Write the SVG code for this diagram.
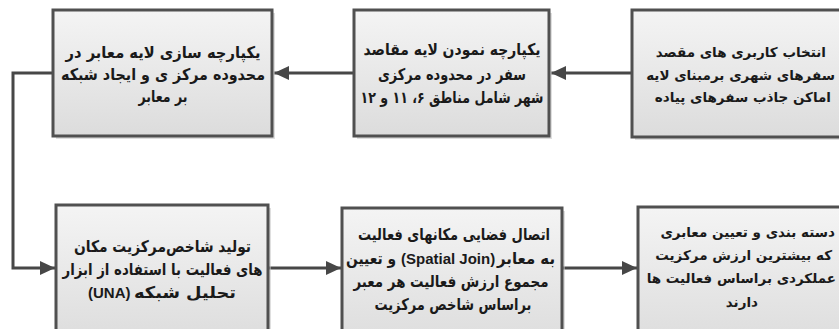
<svg xmlns="http://www.w3.org/2000/svg" width="839" height="329" viewBox="0 0 839 329">
<defs>
<linearGradient id="g" x1="0" y1="0" x2="0" y2="1">
<stop offset="0" stop-color="#f4f4f4"/>
<stop offset="1" stop-color="#dcdcdc"/>
</linearGradient>
<marker id="ah" markerWidth="16" markerHeight="14" refX="15" refY="7" orient="auto" markerUnits="userSpaceOnUse">
<path d="M0,0 L15,7 L0,14 Z" fill="#474747"/>
</marker>
</defs>
<style>
.box{fill:url(#g);stroke:#505050;stroke-width:3}
.sh{fill:#c4c4c4;opacity:0.55}
.t{font-family:"DejaVu Sans",sans-serif;font-size:16px;font-weight:bold;fill:#1a1a1a;text-anchor:middle}
.s{font-family:"DejaVu Sans",sans-serif;font-size:13.5px;font-weight:bold;fill:#1a1a1a;text-anchor:end}
.p{font-family:"DejaVu Sans",sans-serif;font-size:16px;font-weight:bold;fill:#1a1a1a}
.l{font-family:"Liberation Sans",sans-serif;font-size:15px;font-weight:bold;fill:#1a1a1a}
.c{fill:none;stroke:#474747;stroke-width:3}
</style>
<rect width="839" height="329" fill="#fff"/>
<g id="connectors">
<path class="c" d="M632,73 L551,73" marker-end="url(#ah)"/>
<path class="c" d="M354,73 L274,73" marker-end="url(#ah)"/>
<path class="c" d="M53,73 L13,73 L13,268 L55,268" marker-end="url(#ah)"/>
<path class="c" d="M268,268 L341,268" marker-end="url(#ah)"/>
<path class="c" d="M562,268 L637,268" marker-end="url(#ah)"/>
</g>
<g id="n1">
<rect class="sh" x="635" y="13" width="225" height="127"/>
<rect class="box" x="632" y="10" width="225" height="127"/>
<text class="s" x="826" y="57">انتخاب کاربری های مقصد</text>
<text class="s" x="835" y="80">سفرهای شهری برمبنای لایه</text>
<text class="s" x="831" y="102">اماکن جاذب سفرهای پیاده</text>
</g>
<g id="n2">
<rect class="sh" x="357" y="13" width="195" height="126"/>
<rect class="box" x="354" y="10" width="195" height="126"/>
<text class="t" x="452" y="55" textLength="177" lengthAdjust="spacingAndGlyphs">یکپارچه نمودن لایه مقاصد</text>
<text class="t" x="452" y="80" textLength="148" lengthAdjust="spacingAndGlyphs">سفر در محدوده مرکزی</text>
<text class="t" x="452" y="103" textLength="183" lengthAdjust="spacingAndGlyphs">شهر شامل مناطق ۶، ۱۱ و ۱۲</text>
</g>
<g id="n3">
<rect class="sh" x="56" y="13" width="219" height="126"/>
<rect class="box" x="53" y="10" width="219" height="126"/>
<text class="t" x="163" y="58" textLength="195" lengthAdjust="spacingAndGlyphs">یکپارچه سازی لایه معابر در</text>
<text class="t" x="163" y="80" textLength="204" lengthAdjust="spacingAndGlyphs">محدوده مرکز ی و ایجاد شبکه</text>
<text class="t" x="163" y="102" textLength="49" lengthAdjust="spacingAndGlyphs">بر معابر</text>
</g>
<g id="n4">
<rect class="sh" x="59" y="208" width="212" height="140"/>
<rect class="box" x="56" y="205" width="212" height="140"/>
<text class="t" x="162.5" y="252" textLength="177" lengthAdjust="spacingAndGlyphs">تولید شاخص‌مرکزیت مکان</text>
<text class="t" x="162.5" y="275" textLength="200" lengthAdjust="spacingAndGlyphs">های فعالیت با استفاده از ابزار</text>
<text class="l" x="88" y="298">(UNA)</text>
<text class="p" x="134" y="298" textLength="102" lengthAdjust="spacingAndGlyphs">تحلیل شبکه</text>
</g>
<g id="n5">
<rect class="sh" x="345" y="211" width="220" height="140"/>
<rect class="box" x="342" y="208" width="220" height="140"/>
<text class="t" x="454" y="240" textLength="192" lengthAdjust="spacingAndGlyphs">اتصال فضایی مکانهای فعالیت</text>
<text class="p" x="346" y="264" textLength="50" lengthAdjust="spacingAndGlyphs">و تعیین</text>
<text class="l" x="401" y="264">(Spatial Join)</text>
<text class="p" x="497" y="264" textLength="58" lengthAdjust="spacingAndGlyphs">به معابر</text>
<text class="t" x="451" y="287" textLength="195" lengthAdjust="spacingAndGlyphs">مجموع ارزش فعالیت هر معبر</text>
<text class="t" x="453" y="310" textLength="157" lengthAdjust="spacingAndGlyphs">براساس شاخص مرکزیت</text>
</g>
<g id="n6">
<rect class="sh" x="641" y="210" width="215" height="140"/>
<rect class="box" x="638" y="207" width="215" height="140"/>
<text class="s" x="835" y="237">دسته بندی و تعیین معابری</text>
<text class="s" x="832" y="260">که بیشترین ارزش مرکزیت</text>
<text class="s" x="836" y="283">عملکردی براساس فعالیت ها</text>
<text class="s" x="758" y="307">دارند</text>
</g>
</svg>
